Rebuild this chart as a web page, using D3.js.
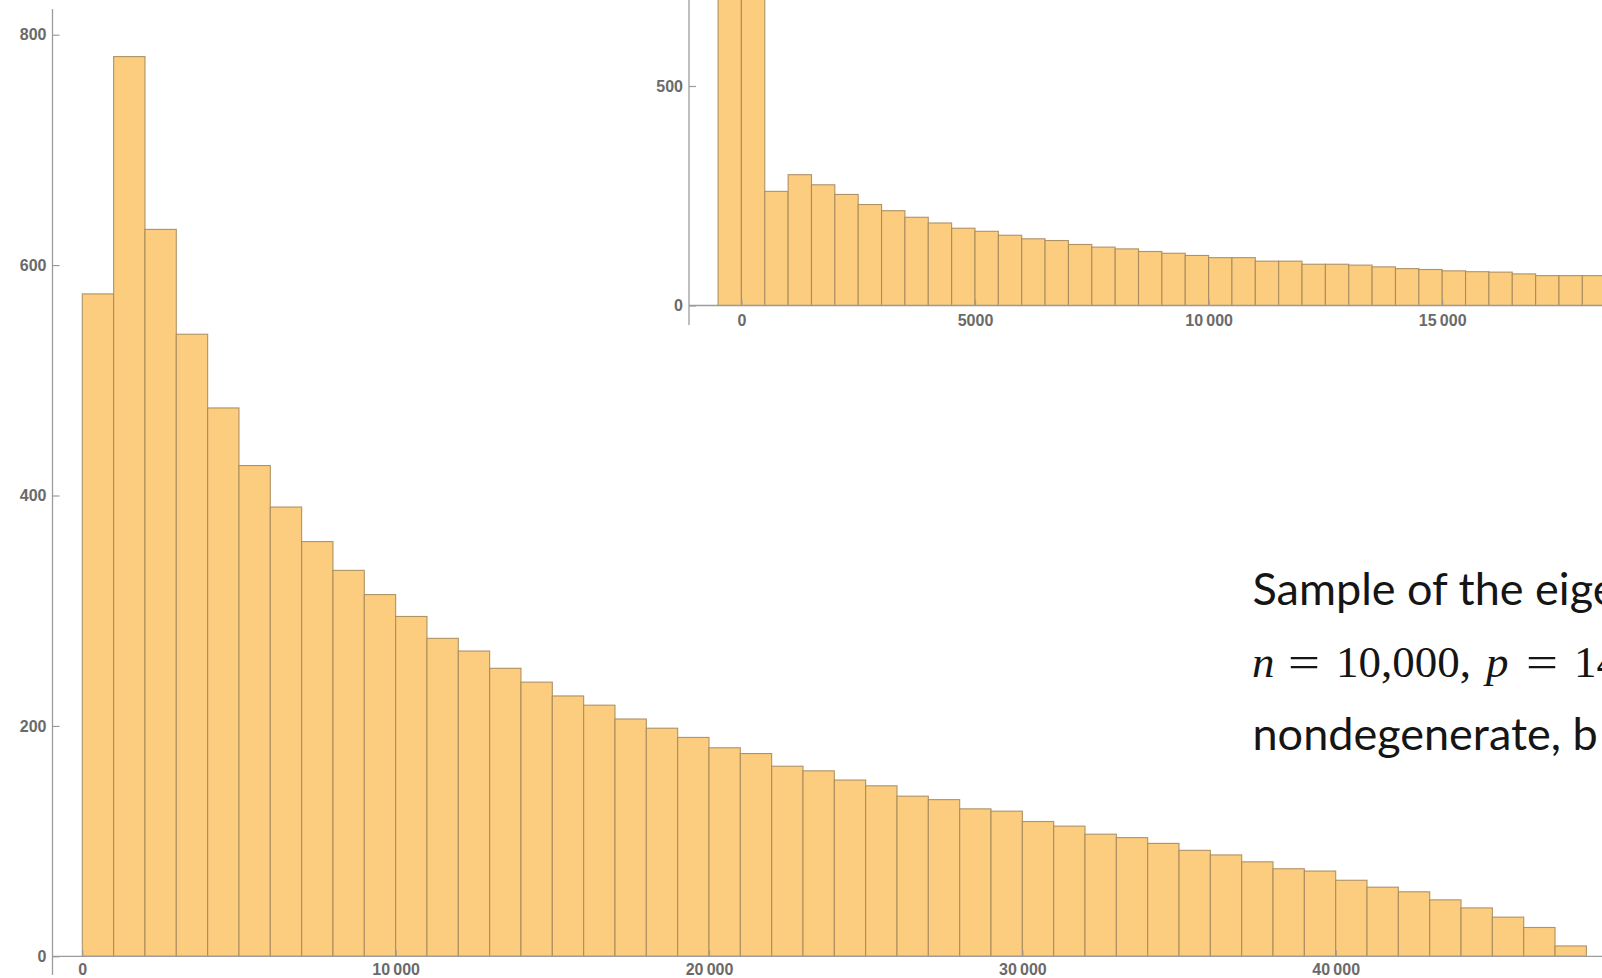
<!DOCTYPE html>
<html>
<head>
<meta charset="utf-8">
<script src="https://cdn.jsdelivr.net/npm/d3@7"></script>
<style>
  html, body { margin: 0; padding: 0; background: #ffffff; }
  svg { display: block; overflow: hidden; }
</style>
</head>
<body>
<script>
// ---- histogram data ----
// Main histogram: bins of width 1000 starting at 0
const mainBinWidth = 1000;
const mainBinStart = 0;
const mainCounts = [575, 781, 631, 540, 476, 426, 390, 360, 335, 314, 295, 276, 265, 250, 238, 226,
                    218, 206, 198, 190, 181, 176, 165, 161, 153, 148, 139, 136, 128, 126, 117, 113,
                    106, 103, 98, 92, 88, 82, 76, 74, 66, 60, 56, 49, 42, 34, 25, 9];
const mainXTicks = [0, 10000, 20000, 30000, 40000];
const mainYTicks = [0, 200, 400, 600, 800];

// Inset histogram: bins of width 500 starting at -500
const insetBinWidth = 500;
const insetBinStart = -500;
const insetCounts = [1450, 1200, 260, 298, 275, 253, 230, 216, 201, 188, 176, 169, 160, 152, 148, 139,
                     133, 129, 123, 119, 114, 109, 109, 101, 101, 94, 94, 92, 88, 84, 82, 79,
                     77, 76, 72, 68, 68, 68];
const insetXTicks = [0, 5000, 10000, 15000];
const insetYTicks = [0, 500];

const captionLine1 = "Sample of the eigenvalues";
const captionLine3 = "nondegenerate, b";

// ---- layout ----
const W = 1602, H = 978;
const svg = d3.select("body").append("svg").attr("width", W).attr("height", H);

const barFill = "#fccd7e";
const barEdge = "#a68a5c";
const axisColor = "#9c9c9c";
const labelColor = "#6a6a6a";
const tickFont = "'Liberation Sans', Arial, sans-serif";

function fmtTick(v) {
  if (Math.abs(v) < 10000) return String(v);
  return d3.format(",")(v).replace(/,/g, "\u2009");
}

function drawHistogram(g, cfg) {
  const { x, y, counts, binStart, binWidth, axisX, yTop, yBottom, xRight,
          majorX, minorX, majorY, minorY, xLabelPad } = cfg;
  const bins = counts.map((c, i) => ({ x0: binStart + i * binWidth, x1: binStart + (i + 1) * binWidth, c }));

  g.append("g").selectAll("rect").data(bins).join("rect")
    .attr("x", d => x(d.x0))
    .attr("width", d => x(d.x1) - x(d.x0))
    .attr("y", d => y(d.c))
    .attr("height", d => y(0) - y(d.c))
    .attr("fill", barFill)
    .attr("stroke", barEdge)
    .attr("stroke-width", 1.1)
    .attr("stroke-opacity", 0.9);

  // axis lines
  g.append("line").attr("x1", axisX).attr("x2", xRight).attr("y1", y(0)).attr("y2", y(0))
    .attr("stroke", axisColor).attr("stroke-width", 1.3);
  g.append("line").attr("x1", axisX).attr("x2", axisX).attr("y1", yTop).attr("y2", yBottom)
    .attr("stroke", axisColor).attr("stroke-width", 1.3);

  // x ticks (pointing up into the plot)
  const xa = g.append("g").attr("transform", `translate(0,${y(0)})`);
  xa.call(d3.axisBottom(x).tickValues(minorX).tickSize(-3).tickFormat(""));
  xa.call(d3.axisBottom(x).tickValues(majorX).tickSize(-6).tickPadding(xLabelPad).tickFormat(fmtTick));
  xa.selectAll(".domain").remove();

  // y ticks (pointing right into the plot)
  const ya = g.append("g").attr("transform", `translate(${axisX},0)`);
  ya.call(d3.axisRight(y).tickValues(minorY).tickSize(4).tickFormat(""));
  ya.call(d3.axisRight(y).tickValues(majorY).tickSize(7).tickFormat(fmtTick));
  ya.selectAll(".domain").remove();
  ya.selectAll(".tick text").attr("x", -6).attr("text-anchor", "end");

  g.selectAll(".tick line").attr("stroke", axisColor).attr("stroke-width", 1.2);
  g.selectAll(".tick text")
    .attr("fill", labelColor)
    .attr("font-family", tickFont)
    .attr("font-weight", "bold")
    .attr("font-size", 16);
}

// ---- main histogram ----
const xMain = d3.scaleLinear().domain([0, 10000]).range([82.3, 395.65]);
const yMain = d3.scaleLinear().domain([0, 800]).range([956.3, 34.7]);
drawHistogram(svg.append("g"), {
  x: xMain, y: yMain, counts: mainCounts, binStart: mainBinStart, binWidth: mainBinWidth,
  axisX: 52.5, yTop: 9, yBottom: 975, xRight: W,
  majorX: mainXTicks, minorX: d3.range(0, 49000, 2000),
  majorY: mainYTicks, minorY: d3.range(0, 801, 50), xLabelPad: 7
});

// ---- inset histogram ----
const xInset = d3.scaleLinear().domain([0, 5000]).range([741.4, 975]);
const yInset = d3.scaleLinear().domain([0, 500]).range([305.5, 86]);
const inset = svg.append("g");
inset.append("rect").attr("x", 689).attr("y", 0).attr("width", W - 689).attr("height", 326).attr("fill", "#ffffff");
drawHistogram(inset, {
  x: xInset, y: yInset, counts: insetCounts, binStart: insetBinStart, binWidth: insetBinWidth,
  axisX: 689, yTop: 0, yBottom: 325, xRight: W,
  majorX: insetXTicks, minorX: d3.range(0, 19000, 1000),
  majorY: insetYTicks, minorY: d3.range(0, 701, 100), xLabelPad: 9
});

// ---- caption ----
const cap = svg.append("g").attr("fill", "#151515");
cap.append("text").attr("x", 1252.5).attr("y", 605)
  .attr("font-family", "Lato, 'Noto Sans', sans-serif").attr("font-size", 45)
  .text(captionLine1);

const serif = "'Liberation Serif', 'DejaVu Serif', serif";
const line2 = cap.append("g").attr("font-family", serif).attr("font-size", 45);
line2.append("text").attr("x", 1252).attr("y", 677).attr("font-style", "italic").text("n");
line2.append("text").attr("x", 1288).attr("y", 677).attr("textLength", 32)
  .attr("lengthAdjust", "spacingAndGlyphs").text("=");
line2.append("text").attr("x", 1336).attr("y", 677).text("10,000,");
line2.append("text").attr("x", 1486).attr("y", 677).attr("font-style", "italic").text("p");
line2.append("text").attr("x", 1526).attr("y", 677).attr("textLength", 32)
  .attr("lengthAdjust", "spacingAndGlyphs").text("=");
line2.append("text").attr("x", 1574).attr("y", 677).text("14");

cap.append("text").attr("x", 1252.5).attr("y", 750)
  .attr("font-family", "Lato, 'Noto Sans', sans-serif").attr("font-size", 45)
  .text(captionLine3);
</script>
</body>
</html>
